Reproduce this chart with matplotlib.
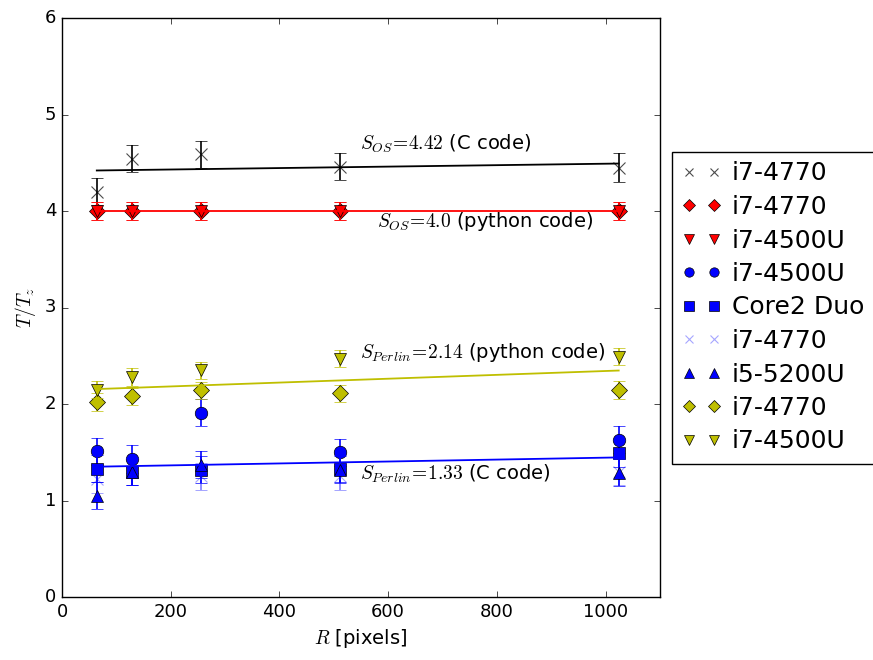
import numpy as np
import matplotlib
matplotlib.use('Agg')
import matplotlib.pyplot as plt

plt.style.use('classic')
plt.rcParams['mathtext.fontset'] = 'cm'
plt.rcParams['font.family'] = ['DejaVu Sans']
plt.rcParams['figure.facecolor'] = 'white'
plt.rcParams['savefig.facecolor'] = 'white'

R = np.array([64, 128, 256, 512, 1024])

# OS noise, C code (i7-4770)
os_c = [4.20, 4.54, 4.59, 4.46, 4.45]
os_c_err = [0.14, 0.14, 0.14, 0.14, 0.15]
# OS noise, python code
os_py_4770 = [4.00, 4.00, 4.00, 4.00, 4.00]
os_py_4500 = [4.00, 4.00, 4.00, 4.00, 4.00]
os_py_err = [0.09, 0.09, 0.09, 0.09, 0.09]
# Perlin, C code
pc_4500 = [1.51, 1.43, 1.91, 1.50, 1.63]
pc_core2 = [1.33, 1.30, 1.32, 1.33, 1.49]
pc_4770 = [1.22, 1.30, 1.25, 1.25, 1.30]
pc_5200 = [1.05, 1.30, 1.37, 1.32, 1.29]
pc_err = [0.14, 0.14, 0.14, 0.14, 0.14]
# Perlin, python code
pp_4770 = [2.02, 2.08, 2.14, 2.11, 2.145]
pp_4500 = [2.15, 2.28, 2.35, 2.47, 2.49]
pp_err = [0.09, 0.09, 0.09, 0.09, 0.09]

# linear fits (intercept, slope)
fit_os_c = (4.415, 7.5e-5)
fit_os_py = (4.0, 0.0)
fit_p_py = (2.142, 2.0e-4)
fit_p_c = (1.344, 1.0e-4)

series = [
    (os_c, os_c_err, 'x', 'k', 'i7-4770', 1.0),
    (os_py_4770, os_py_err, 'D', 'r', 'i7-4770', 1.0),
    (os_py_4500, os_py_err, 'v', 'r', 'i7-4500U', 1.0),
    (pc_4500, pc_err, 'o', 'b', 'i7-4500U', 1.0),
    (pc_core2, pc_err, 's', 'b', 'Core2 Duo', 1.0),
    (pc_4770, pc_err, 'x', 'b', 'i7-4770', 0.5),
    (pc_5200, pc_err, '^', 'b', 'i5-5200U', 1.0),
    (pp_4770, pp_err, 'D', 'y', 'i7-4770', 1.0),
    (pp_4500, pp_err, 'v', 'y', 'i7-4500U', 1.0),
]

fig = plt.figure(figsize=(8.73, 6.6), dpi=100)
ax = fig.add_axes([62/873, 63/660, 598/873, 579/660])

for vals, err, m, c, lab, a in series:
    ax.errorbar(R, vals, yerr=err, fmt='none', ecolor=c, capsize=4, alpha=a, elinewidth=1.2)
    ms = 8 if m in ('D', 'x') else 9
    xa = a * 0.7 if m == 'x' else a
    ax.plot(R, vals, linestyle='none', marker=m, color=c, ms=ms, alpha=xa,
            mec='k' if m != 'x' else c, mew=0.5 if m != 'x' else 0.8, label=lab)

Rl = np.array([R[0], R[-1]])
for (b0, b1), c in [(fit_os_c, 'k'), (fit_os_py, 'r'), (fit_p_py, 'y'), (fit_p_c, 'b')]:
    ax.plot(Rl, b0 + b1*Rl, '-', color=c, lw=1.3)

ax.text(549, 4.7, r'$S_{OS}\!=\!4.42$ (C code)', fontsize=14, va='center')
ax.text(579, 3.89, r'$S_{OS}\!=\!4.0$ (python code)', fontsize=14, va='center')
ax.text(549, 2.53, r'$S_{Perlin}\!=\!2.14$ (python code)', fontsize=14, va='center')
ax.text(549, 1.28, r'$S_{Perlin}\!=\!1.33$ (C code)', fontsize=14, va='center')

ax.set_xlim(0, 1100)
ax.set_ylim(0, 6)
ax.set_xticks([0, 200, 400, 600, 800, 1000])
ax.tick_params(labelsize=13)
ax.set_xlabel(r'$R$ [pixels]', fontsize=14)
ax.set_ylabel(r'$T/T_z$', fontsize=14)

ax.legend(loc='center left', bbox_to_anchor=(1.02, 0.5), numpoints=2,
          fontsize=18, borderaxespad=0, markerscale=0.75, labelspacing=0.38,
          handlelength=1.6, handletextpad=0.4, borderpad=0.4)

fig.savefig('out.png', dpi=100)
